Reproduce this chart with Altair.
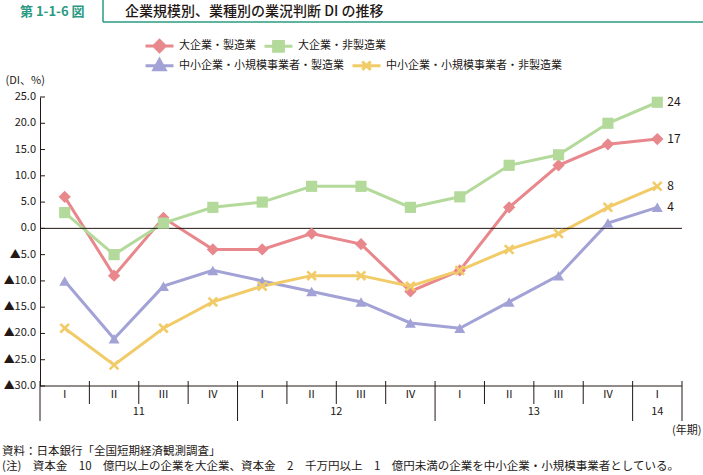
import altair as alt
import pandas as pd

# ---------------- data ----------------
quarters = ["Ⅰ", "Ⅱ", "Ⅲ", "Ⅳ", "Ⅰ", "Ⅱ", "Ⅲ", "Ⅳ", "Ⅰ", "Ⅱ", "Ⅲ", "Ⅳ", "Ⅰ"]
years = ["11", "11", "11", "11", "12", "12", "12", "12", "13", "13", "13", "13", "14"]
series_names = ["大企業・製造業", "大企業・非製造業",
                "中小企業・小規模事業者・製造業", "中小企業・小規模事業者・非製造業"]
large_mfg = [6, -9, 2, -4, -4, -1, -3, -12, -8, 4, 12, 16, 17]
large_nonmfg = [3, -5, 1, 4, 5, 8, 8, 4, 6, 12, 14, 20, 24]
sme_mfg = [-10, -21, -11, -8, -10, -12, -14, -18, -19, -14, -9, 1, 4]
sme_nonmfg = [-19, -26, -19, -14, -11, -9, -9, -11, -8, -4, -1, 4, 8]
y_ticks = [25, 20, 15, 10, 5, 0, -5, -10, -15, -20, -25, -30]

header_label = "第 1-1-6 図"
title_text = "企業規模別、業種別の業況判断 DI の推移"
source_text = "資料：日本銀行「全国短期経済観測調査」"
note_text = ("(注)\u3000資本金\u300010\u3000億円以上の企業を大企業、資本金\u30002\u3000千万円以上"
             "\u30001\u3000億円未満の企業を中小企業・小規模事業者としている。")

# ---------------- styles ----------------
FONT = "Noto Sans CJK JP"
TXT = "#231815"
TEAL = "#2A9A82"
colors = ["#E8878C", "#B4DA9B", "#A2A2D6", "#F2CB69"]
XPATH = ("M0,-0.35L0.65,-1L1,-0.65L0.35,0L1,0.65L0.65,1L0,0.35"
         "L-0.65,1L-1,0.65L-0.35,0L-1,-0.65L-0.65,-1Z")
marker_shapes = ["diamond", "square", "triangle-up", XPATH]
marker_sizes = [150, 125, 120, 110]
legend_paths = [
    "M-2,0H2M-0.8,0L0,-0.8L0.8,0L0,0.8Z",
    "M-2,0H2M-0.7,-0.7H0.7V0.7H-0.7Z",
    "M-2,0H2M0,-0.85L0.8,0.6H-0.8Z",
    "M-2,0H2M-0.6,-0.6L0.6,0.6M-0.6,0.6L0.6,-0.6",
]

# ---------------- tables ----------------
all_vals = [large_mfg, large_nonmfg, sme_mfg, sme_nonmfg]
rows = []
for s, vals in zip(series_names, all_vals):
    for i, v in enumerate(vals):
        rows.append({"idx": i, "quarter": quarters[i], "year": years[i], "series": s, "value": v})
df = pd.DataFrame(rows)

qdf = pd.DataFrame({"idx": list(range(len(quarters))), "quarter": quarters, "year": years})
ydf = qdf.groupby("year", as_index=False)["idx"].agg(["mean", "min", "max"]).reset_index()
year_lab = pd.DataFrame({"year": ydf["year"], "pos": ydf["mean"]})
year_bounds = sorted(set([m - 0.5 for m in ydf["min"]] + [m + 0.5 for m in ydf["max"]]))
quarter_bounds = [i + 0.5 for i in range(len(quarters) - 1) if (i + 0.5) not in year_bounds]
ybdf = pd.DataFrame({"b": year_bounds})
qbdf = pd.DataFrame({"b": quarter_bounds})
tickdf = pd.DataFrame({"tick": y_ticks})
zerodf = pd.DataFrame({"tick": [0, -30]})
last = df[df["idx"] == len(quarters) - 1]

W, H = 642, 289

x_scale = alt.Scale(domain=[-0.5, len(quarters) - 0.5], nice=False, zero=False)
y_scale = alt.Scale(domain=[-30, 25], nice=False, zero=False)

x_main = alt.X("idx:Q", scale=x_scale,
               axis=alt.Axis(labels=False, ticks=False, domain=False, grid=False,
                             title="(年期)", titleX=661, titleY=44, titleAlign="right",
                             titleBaseline="middle", titleFont=FONT, titleFontSize=11,
                             titleFontWeight="normal", titleColor=TXT))
y_main = alt.Y("value:Q", scale=y_scale,
               axis=alt.Axis(values=y_ticks, ticks=False, grid=False, labels=False,
                             domainColor=TXT, domainWidth=1,
                             title="(DI、%)", titleAngle=0, titleX=-35, titleY=-17,
                             titleAlign="left", titleBaseline="middle", titleFont=FONT,
                             titleFontSize=11, titleFontWeight="normal", titleColor=TXT))

layers = []

# lines (first layer carries the axis definitions)
for k, (s, c) in enumerate(zip(series_names, colors)):
    layers.append(alt.Chart(df).transform_filter(alt.datum.series == s).mark_line(
        strokeWidth=3, color=c).encode(
        x=x_main if k == 0 else alt.X("idx:Q", scale=x_scale),
        y=y_main if k == 0 else alt.Y("value:Q", scale=y_scale)))

# horizontal rules at 0 and -30
layers.append(alt.Chart(zerodf).mark_rule(color=TXT, strokeWidth=1).encode(
    y=alt.Y("tick:Q", scale=y_scale)))
# inward y ticks
layers.append(alt.Chart(tickdf).mark_rule(color=TXT, strokeWidth=1).encode(
    y=alt.Y("tick:Q", scale=y_scale), x=alt.value(0), x2=alt.value(5)))
# y tick labels
layers.append(alt.Chart(tickdf).transform_calculate(
    lab="datum.tick < 0 ? '▲' + format(-datum.tick, '.1f') : format(datum.tick, '.1f')"
).mark_text(font=FONT, fontSize=11, color=TXT, align="right", baseline="middle").encode(
    y=alt.Y("tick:Q", scale=y_scale), x=alt.value(-4), text="lab:N"))
# quarter separators
layers.append(alt.Chart(qbdf).mark_rule(color=TXT, strokeWidth=1).encode(
    x=alt.X("b:Q", scale=x_scale), y=alt.value(H - 5), y2=alt.value(H + 18)))
# year separators
layers.append(alt.Chart(ybdf).mark_rule(color=TXT, strokeWidth=1).encode(
    x=alt.X("b:Q", scale=x_scale), y=alt.value(H - 5), y2=alt.value(H + 35)))
# quarter labels
layers.append(alt.Chart(qdf).mark_text(font=FONT, fontSize=11, color=TXT, baseline="middle").encode(
    x=alt.X("idx:Q", scale=x_scale), y=alt.value(H + 9), text="quarter:N"))
# year labels
layers.append(alt.Chart(year_lab).mark_text(font=FONT, fontSize=11, color=TXT, baseline="middle").encode(
    x=alt.X("pos:Q", scale=x_scale), y=alt.value(H + 26), text="year:N"))

# markers
for s, shp, c, sz in zip(series_names, marker_shapes, colors, marker_sizes):
    layers.append(alt.Chart(df).transform_filter(alt.datum.series == s).mark_point(
        filled=True, shape=shp, size=sz, color=c, opacity=1).encode(
        x=alt.X("idx:Q", scale=x_scale),
        y=alt.Y("value:Q", scale=y_scale)))
# end labels
layers.append(alt.Chart(last).mark_text(font=FONT, fontSize=12, color=TXT, align="left",
                                        baseline="middle", dx=10).encode(
    x=alt.X("idx:Q", scale=x_scale),
    y=alt.Y("value:Q", scale=y_scale),
    text="value:Q"))


# legends (two rows, each built by the library from an empty filtered layer)
def legend_layer(names, paths, cols, lx, ly, cpad):
    lg = alt.Legend(title=None, orient="none", legendX=lx, legendY=ly, direction="horizontal",
                    columns=len(names), columnPadding=cpad, labelFont=FONT, labelFontSize=11,
                    labelColor=TXT, labelOffset=11, labelLimit=0, symbolSize=196,
                    symbolStrokeWidth=3, symbolOpacity=1, padding=0)
    return alt.Chart(df).transform_filter("false").mark_point(
        filled=True, size=196, strokeWidth=3, opacity=1).encode(
        x=alt.X("idx:Q", scale=x_scale),
        y=alt.Y("value:Q", scale=y_scale),
        color=alt.Color("series:N", scale=alt.Scale(domain=names, range=cols), legend=lg),
        stroke=alt.Stroke("series:N", scale=alt.Scale(domain=names, range=cols), legend=lg),
        shape=alt.Shape("series:N", scale=alt.Scale(domain=names, range=paths), legend=lg))


layers.append(legend_layer(series_names[:2], legend_paths[:2], colors[:2], 111, -60, 2))
layers.append(legend_layer(series_names[2:], legend_paths[2:], colors[2:], 111, -40, 2))

# header, title, footnotes
one = pd.DataFrame({"t": [header_label]})
layers.append(alt.Chart(pd.DataFrame({"t": [header_label]})).mark_text(
    font=FONT, fontSize=13, fontWeight="bold", color=TEAL, align="left", baseline="middle").encode(
    text="t:N", x=alt.value(-20), y=alt.value(-85)))
layers.append(alt.Chart(pd.DataFrame({"t": [title_text]})).mark_text(
    font=FONT, fontSize=14, fontWeight=500, color=TXT, align="left", baseline="middle").encode(
    text="t:N", x=alt.value(85), y=alt.value(-85)))
layers.append(alt.Chart(pd.DataFrame({"t": [source_text]})).mark_text(
    font=FONT, fontSize=11.5, color=TXT, align="left", baseline="middle").encode(
    text="t:N", x=alt.value(-38), y=alt.value(355)))
layers.append(alt.Chart(pd.DataFrame({"t": [note_text]})).mark_text(
    font=FONT, fontSize=11.5, color=TXT, align="left", baseline="middle").encode(
    text="t:N", x=alt.value(-38), y=alt.value(370)))
layers.append(alt.Chart(one).mark_rule(color=TEAL, strokeWidth=1.5).encode(
    x=alt.value(63), y=alt.value(-97), y2=alt.value(-75)))
layers.append(alt.Chart(one).mark_rule(color=TEAL, strokeWidth=1.5).encode(
    x=alt.value(63), x2=alt.value(663), y=alt.value(-75)))

chart = alt.layer(*layers).resolve_scale(
    color="independent", stroke="independent", shape="independent"
).properties(
    width=W, height=H,
    padding={"left": 40, "top": 97, "right": 21, "bottom": 89},
    autosize=alt.AutoSizeParams(type="none"),
).configure_view(stroke=None)

chart.save("out.html", embed_options={"renderer": "svg", "actions": False})
